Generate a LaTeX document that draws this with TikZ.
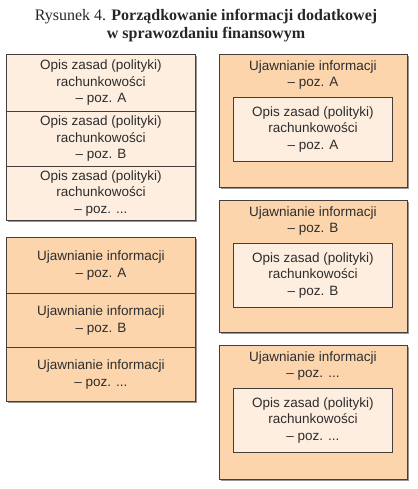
\documentclass[tikz,border=0pt]{standalone}
\usepackage{fontspec}
\setmainfont{Liberation Sans}
\newfontfamily\titlefont{Liberation Serif}
\usetikzlibrary{shadows}
\definecolor{lightfill}{RGB}{254,238,224}
\definecolor{darkfill}{RGB}{252,213,173}
\definecolor{edgecol}{RGB}{70,62,58}
\definecolor{txtcol}{RGB}{45,45,45}
\definecolor{shadowcol}{RGB}{150,150,150}
\tikzset{
  cell/.style={draw=edgecol, line width=0.9pt, anchor=north west, inner sep=0pt,
    align=center, text=txtcol, font=\fontsize{13.5}{16.5}\selectfont,
    drop shadow={shadow xshift=1.6pt, shadow yshift=-1.6pt, fill=shadowcol, opacity=1}},
  light/.style={cell, fill=lightfill},
  dark/.style={cell, fill=darkfill},
  inner/.style={draw=edgecol, line width=0.9pt, anchor=north west, inner sep=0pt,
    align=center, text=txtcol, fill=lightfill, font=\fontsize{13.5}{16.5}\selectfont,
    minimum width=159pt, minimum height=64pt},
  outerlabel/.style={anchor=center, align=center, text=txtcol, inner sep=0pt,
    font=\fontsize{13.5}{16.5}\selectfont}
}
\begin{document}
\begin{tikzpicture}[x=1pt,y=-1pt]
\useasboundingbox (0,0) rectangle (417,489);
% title
\node[font=\titlefont\fontsize{16}{17.5}\selectfont, align=center, text=black!85, inner sep=0pt] (title) at (206,25.5)
  {Rysunek 4. \textbf{Porządkowanie informacji dodatkowej}\\\textbf{w sprawozdaniu finansowym}};
% left top group
\node[light, minimum width=189pt, minimum height=57pt] (l1) at (6,54) {Opis zasad (polityki)\\rachunkowości\\– poz. A};
\node[light, minimum width=189pt, minimum height=55pt] (l2) at (6,111) {Opis zasad (polityki)\\rachunkowości\\– poz. B};
\node[light, minimum width=189pt, minimum height=54pt] (l3) at (6,166) {Opis zasad (polityki)\\rachunkowości\\– poz. ...};
% left bottom group
\node[dark, minimum width=189pt, minimum height=56pt] (u1) at (6,237) {Ujawnianie informacji\\– poz. A};
\node[dark, minimum width=189pt, minimum height=54pt] (u2) at (6,293) {Ujawnianie informacji\\– poz. B};
\node[dark, minimum width=189pt, minimum height=54pt] (u3) at (6,347) {Ujawnianie informacji\\– poz. ...};
% right boxes
\node[dark, minimum width=188pt, minimum height=133pt] (r1) at (219,54) {};
\node[outerlabel] (r1t) at (313,75) {Ujawnianie informacji\\– poz. A};
\node[inner] (r1i) at (233,97) {Opis zasad (polityki)\\rachunkowości\\– poz. A};

\node[dark, minimum width=188pt, minimum height=132pt] (r2) at (219,200) {};
\node[outerlabel] (r2t) at (313,221) {Ujawnianie informacji\\– poz. B};
\node[inner] (r2i) at (233,243) {Opis zasad (polityki)\\rachunkowości\\– poz. B};

\node[dark, minimum width=188pt, minimum height=134pt] (r3) at (219,345) {};
\node[outerlabel] (r3t) at (313,366) {Ujawnianie informacji\\– poz. ...};
\node[inner] (r3i) at (233,388) {Opis zasad (polityki)\\rachunkowości\\– poz. ...};
\end{tikzpicture}
\end{document}
